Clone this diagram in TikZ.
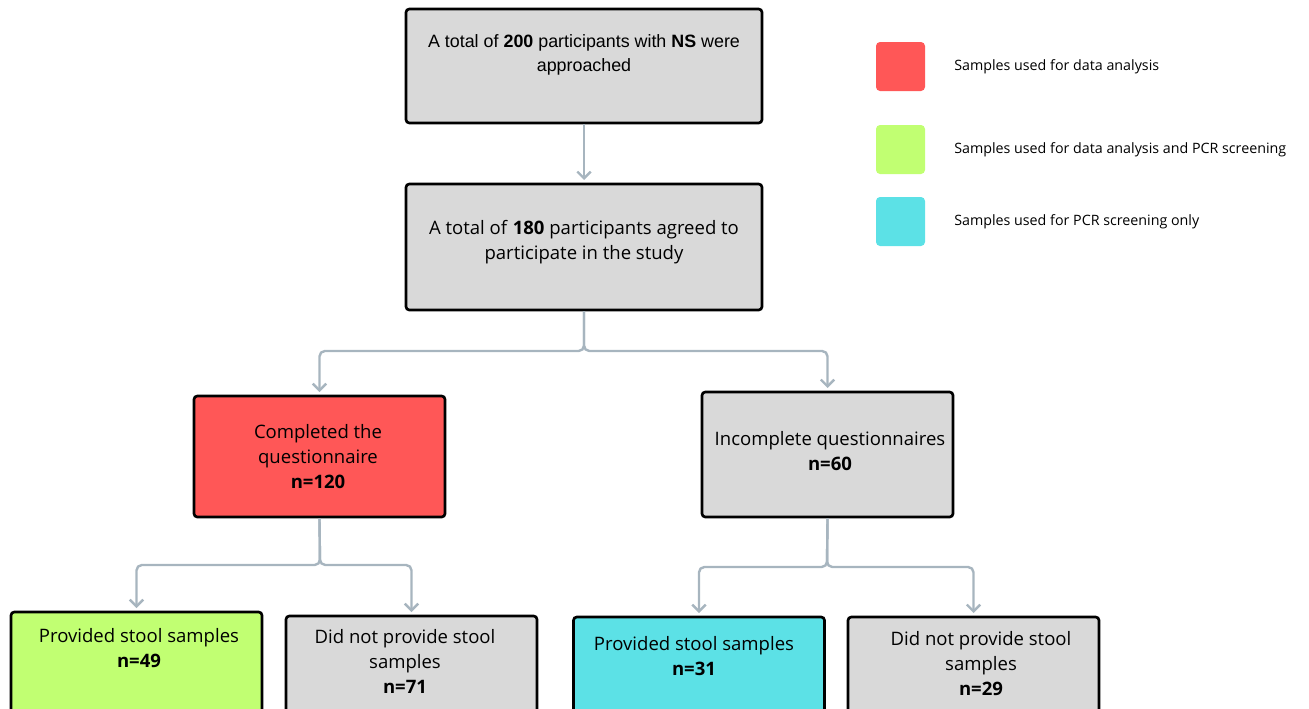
\documentclass[tikz,border=0pt]{standalone}
\usepackage{xcolor}
\usepackage{fontspec}
\setmainfont{Open Sans}
\newfontfamily\arialfont{Liberation Sans}
\usepackage{tikz}
\usetikzlibrary{arrows.meta}

\definecolor{boxgray}{HTML}{D9D9D9}
\definecolor{boxred}{HTML}{FF5757}
\definecolor{boxgreen}{HTML}{C1FF72}
\definecolor{boxcyan}{HTML}{5CE1E6}
\definecolor{linkgray}{HTML}{A7B5BF}

\begin{document}
\begin{tikzpicture}[x=0.75pt,y=0.75pt,yscale=-1,xscale=1,
  flowbox/.style={draw=black, line width=2pt, rounded corners=2.5pt, inner sep=0pt, minimum width=188.25pt},
  widebox/.style={flowbox, minimum width=267pt},
  conn/.style={draw=linkgray, line width=1.8pt, rounded corners=4pt, -{Straight Barb[length=5pt,width=10pt]}, shorten >=2pt},
  txt/.style={inner sep=0.75pt, align=center, font=\fontsize{13.9}{18.75}\selectfont},
  keybox/.style={rounded corners=3pt, minimum size=36.75pt, inner sep=0pt},
  keytxt/.style={inner sep=0.75pt, anchor=west, font=\fontsize{10.7}{12}\selectfont}]
\useasboundingbox (0,0) rectangle (1309,708);
\clip (0,0) rectangle (1309,708);

%Shape: Rectangle
\node[widebox, fill=boxgray, minimum height=85.5pt] (approached) at (584,66) {};
\node[widebox, fill=boxgray, minimum height=94.5pt] (agreed) at (584,247) {};
\node[flowbox, fill=boxred, minimum height=90.75pt] (completed) at (319.5,456.5) {};
\node[flowbox, fill=boxgray, minimum height=93.75pt] (incomplete) at (827.5,454.5) {};
\node[flowbox, fill=boxgreen, minimum height=96pt] (stoolA) at (136.5,676) {};
\node[flowbox, fill=boxgray, minimum height=96pt] (nostoolA) at (411.5,680) {};
\node[flowbox, fill=boxcyan, minimum height=96pt] (stoolB) at (699,681) {};
\node[flowbox, fill=boxgray, minimum height=96pt] (nostoolB) at (973.5,681) {};

%Legend
\node[keybox, fill=boxred] (keyred) at (900.5,66.5) {};
\node[keybox, fill=boxgreen] (keygreen) at (900.5,149.5) {};
\node[keybox, fill=boxcyan] (keycyan) at (900.5,221.5) {};

%Connectors
\coordinate (splitA) at (584,351);
\coordinate (splitB) at (320,565);
\coordinate (splitC) at (827,567);
\draw[conn] (approached) -- (agreed);
\draw[conn] (agreed.south) -- (splitA) -| (completed.north);
\draw[conn] (agreed.south) -- (splitA) -| (incomplete.north);
\draw[conn] (completed.south) -- (splitB) -| (stoolA.north);
\draw[conn] (completed.south) -- (splitB) -| (nostoolA.north);
\draw[conn] (incomplete.south) -- (splitC) -| (stoolB.north);
\draw[conn] (incomplete.south) -- (splitC) -| (nostoolB.north);

% Text Node
\node[txt, font=\arialfont\fontsize{13.4}{18}\selectfont] (approachedtxt) at (584,55) {A total of \textbf{200} participants with \textbf{NS} were\\approached};
% Text Node
\node[txt] (agreedtxt) at (584,242.5) {A total of \textbf{180} participants agreed to\\participate in the study};
% Text Node
\node[txt] (completedtxt) at (318,457) {Completed the\\questionnaire\\\textbf{n=120}};
% Text Node
\node[txt] (incompletetxt) at (830,451) {Incomplete questionnaires\\\textbf{n=60}};
% Text Node
\node[txt] (stoolAtxt) at (139,648.5) {Provided stool samples\\\textbf{n=49}};
% Text Node
\node[txt] (nostoolAtxt) at (405,661.5) {Did not provide stool\\samples\\\textbf{n=71}};
% Text Node
\node[txt] (stoolBtxt) at (694,656.5) {Provided stool samples\\\textbf{n=31}};
% Text Node
\node[txt] (nostoolBtxt) at (981,663.5) {Did not provide stool\\samples\\\textbf{n=29}};

% Legend Text
\node[keytxt] (keyredtxt) at (953,67) {Samples used for data analysis};
\node[keytxt] (keygreentxt) at (953,150) {Samples used for data analysis and PCR screening};
\node[keytxt] (keycyantxt) at (953,222) {Samples used for PCR screening only};

\end{tikzpicture}
\end{document}
